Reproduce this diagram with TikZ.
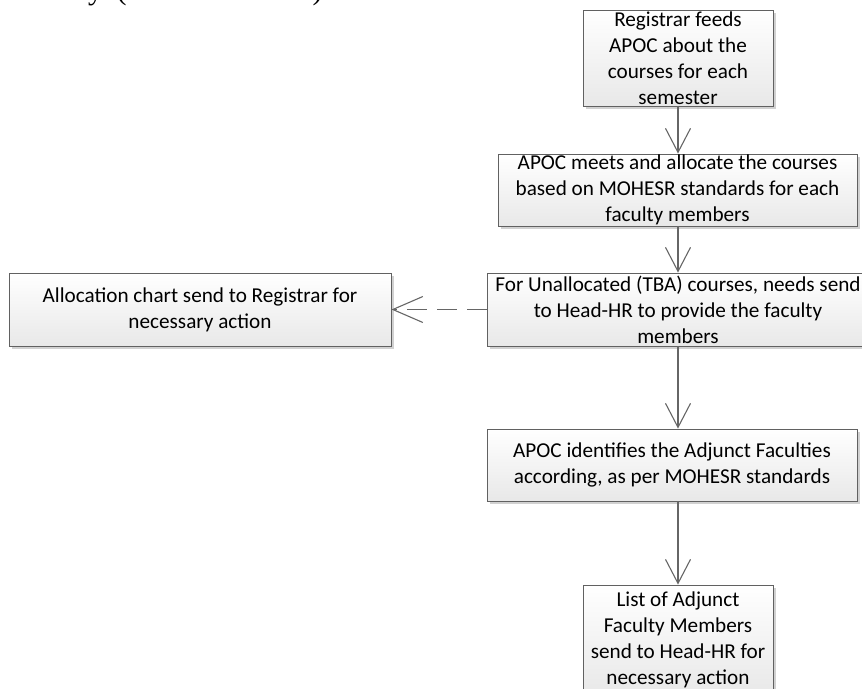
\documentclass[tikz,border=0pt]{standalone}
\usepackage{fontspec}
\setmainfont{Carlito}
\newfontfamily\bodyserif{Liberation Serif}
\usetikzlibrary{arrows.meta,shadows}
\begin{document}
\begin{tikzpicture}[x=1pt,y=-1pt,
  box/.style={draw=black!62, line width=0.9pt, top color=white, bottom color=black!9,
    drop shadow={shadow xshift=3pt, shadow yshift=-3pt, fill=black!18, opacity=1},
    inner sep=0pt, align=center, font=\fontsize{21.2}{26}\selectfont},
  flow/.style={draw=black!60, line width=1.1pt,
    -{Straight Barb[length=24pt,width=25pt,line width=1.1pt]}},
  weak/.style={draw=black!60, line width=1.1pt, dash pattern=on 20pt off 10pt,
    -{Straight Barb[length=30pt,width=26pt,line width=1.1pt]}},
]
\useasboundingbox (0,0) rectangle (862,688);
\clip (0,0) rectangle (862,688);

% last line of the running text above the chart, mostly cut off
\node[anchor=base west, inner sep=0pt, font=\bodyserif\fontsize{30}{36}\selectfont]
  (runin) at (88,-1) {y\hspace{6pt} (\hspace{186pt})};

% process steps
\node[box, minimum width=190pt, minimum height=96pt] (reg) at (678,58)
  {Registrar feeds\\APOC about the\\courses for each\\semester};
\node[box, minimum width=359pt, minimum height=72pt] (meet) at (677.5,190)
  {APOC meets and allocate the courses\\based on MOHESR standards for each\\faculty members};
\node[box, minimum width=382pt, minimum height=73pt] (tba) at (678,309.5)
  {For Unallocated (TBA) courses, needs send\\to Head-HR to provide the faculty\\members};
\node[box, minimum width=382pt, minimum height=73pt] (chart) at (200,309.5)
  {Allocation chart send to Registrar for\\necessary action};
\node[box, minimum width=370pt, minimum height=72pt] (adj) at (672,465)
  {APOC identifies the Adjunct Faculties\\according, as per MOHESR standards};
\node[box, minimum width=190pt, minimum height=110pt] (list) at (678,640)
  {List of Adjunct\\Faculty Members\\send to Head-HR for\\necessary action};

% connectors
\draw[flow] (reg.south) -- (reg.south |- meet.north);
\draw[flow] (tba.north |- meet.south) -- (tba.north);
\draw[flow] (tba.south) -- (tba.south |- adj.north);
\draw[flow] (list.north |- adj.south) -- (list.north);
\draw[weak] (tba.west) -- (chart.east);
\end{tikzpicture}
\end{document}
